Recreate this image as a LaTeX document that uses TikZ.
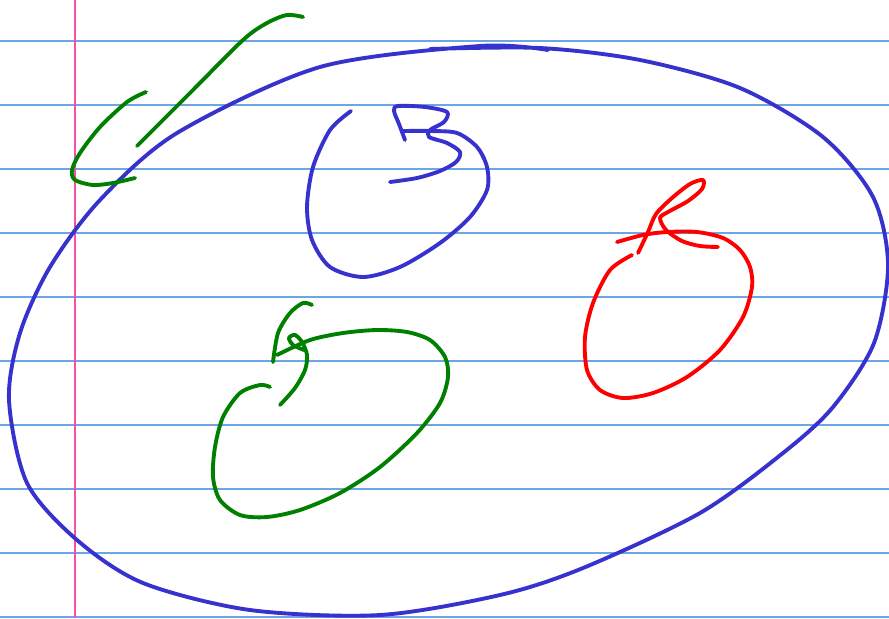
\documentclass[tikz,border=0pt]{standalone}
\definecolor{penna}{RGB}{55,50,205}
\definecolor{verde}{RGB}{0,128,0}
\definecolor{rigo}{RGB}{110,165,230}
\definecolor{margine}{RGB}{250,80,170}
\begin{document}
\begin{tikzpicture}[x=0.01cm, y=-0.01cm,
    blu/.style={penna, line width=1.1pt, line cap=round, line join=round},
    vrd/.style={verde, line width=1.1pt, line cap=round, line join=round},
    rss/.style={red, line width=1.1pt, line cap=round, line join=round}]
        % Foglio
        \fill[white] (0,0) rectangle (889,618);
        \useasboundingbox (0,0) rectangle (889,618);
        % Righe
        \foreach \y in {41,105,...,617}
            \draw[rigo, line width=0.35pt] (0,\y) -- (889,\y);
        \draw[margine, line width=0.5pt] (75,0) -- (75,618);
        % Insieme grande
        \draw[blu] plot[smooth] coordinates {(430,49) (540,48) (640,60) (740,88)
            (823,137) (873,197) (888,265) (874,343) (833,407) (783,453) (700,513)
            (583,568) (500,595) (380,615) (250,610) (143,583) (77,540) (27,483)
            (9,400) (20,333) (50,267) (100,200) (177,133) (320,67) (480,46) (548,50)};
        % Insieme B
        \draw[blu] plot[smooth] coordinates {(351,111) (330,130) (313,167) (307,207)
            (312,240) (330,267) (363,277) (400,267) (440,243) (470,217) (487,190)
            (487,167) (477,147) (457,133) (430,131) (403,131)};
        \draw[blu] plot[smooth] coordinates {(405,140) (399,124) (394,111) (398,106)
            (425,107) (447,112) (444,122) (430,130) (429,137) (447,143) (460,152)
            (456,162) (440,171) (417,178) (390,182)};
        % Insieme R
        \draw[rss] plot[smooth] coordinates {(617,242) (643,235) (667,232) (697,232)
            (723,238) (740,250) (750,267) (752,287) (743,317) (720,350) (687,377)
            (653,393) (623,398) (600,390) (587,370) (585,337) (593,303) (610,270)
            (632,255)};
        \draw[rss] plot[smooth] coordinates {(638,253) (648,232) (656,214)
            (672,198) (690,184) (703,180) (702,189) (688,201) (668,212) (660,218)
            (666,230) (682,241) (700,246) (718,247)};
        % Insieme S
        \draw[vrd] plot[smooth] coordinates {(270,387) (260,385) (240,393) (223,417)
            (215,447) (213,477) (220,500) (240,515) (267,517) (300,510) (340,493)
            (380,467) (417,433) (440,403) (448,377) (445,357) (430,340) (407,332)
            (377,330) (343,333) (310,340) (277,355)};
        \draw[vrd] plot[smooth] coordinates {(312,305) (303,303) (290,313)
            (278,333) (273,362)};
        \draw[vrd] plot[smooth] coordinates {(280,405) (295,388) (305,370)
            (307,355) (302,342) (295,335) (289,338) (293,345) (304,350)};
        % Segno di spunta
        \draw[vrd] plot[smooth] coordinates {(137,146) (190,93) (243,40) (267,23)
            (287,15) (303,17)};
        \draw[vrd] plot[smooth] coordinates {(146,92) (127,102) (100,127) (80,153)
            (72,170) (75,180) (93,185) (113,183) (135,178)};
\end{tikzpicture}
\end{document}
